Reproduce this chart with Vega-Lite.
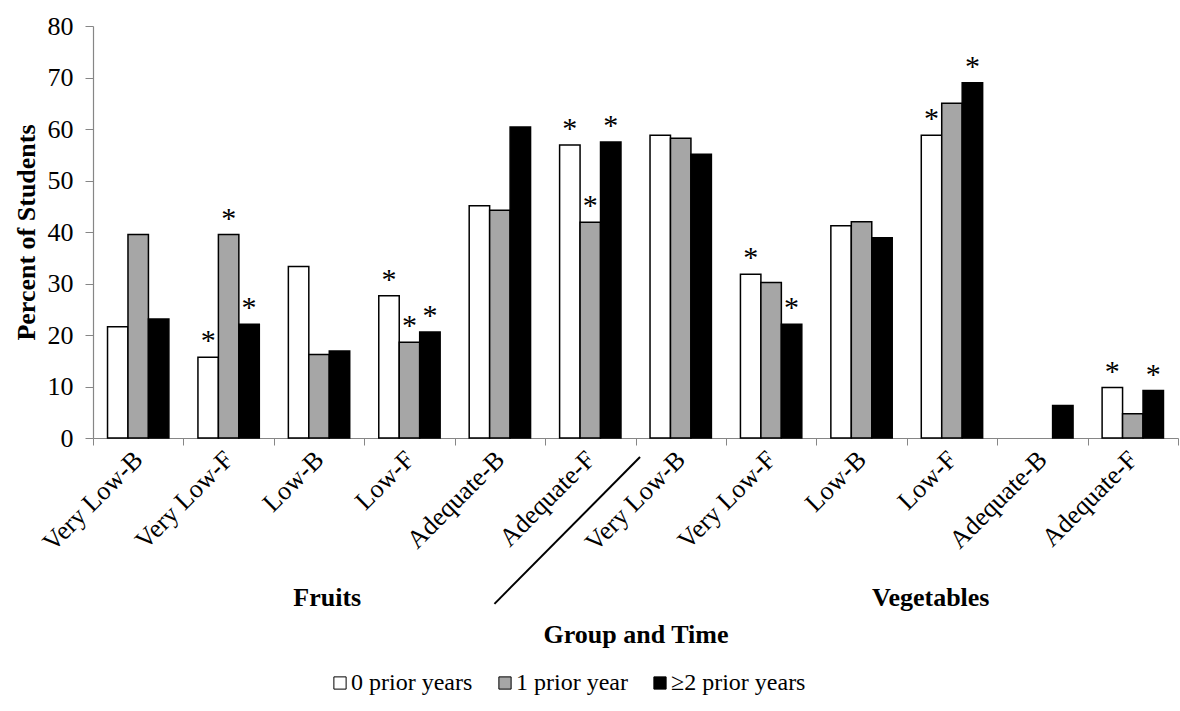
{
  "$schema": "https://vega.github.io/schema/vega-lite/v6.json",
  "width": 1085,
  "height": 412,
  "autosize": "none",
  "padding": {"left": 93, "top": 26, "right": 2, "bottom": 273},
  "background": "white",
  "config": {
    "font": "Liberation Serif",
    "view": {"stroke": null},
    "axis": {"labelFont": "Liberation Serif", "titleFont": "Liberation Serif", "labelColor": "black", "titleColor": "black"},
    "legend": {"labelFont": "Liberation Serif"}
  },
  "datasets": {
    "bars": [
      {"key": "Fruits|Very Low-B", "series": "0 prior years", "value": 21.6, "sig": false},
      {"key": "Fruits|Very Low-B", "series": "1 prior year", "value": 39.5, "sig": false},
      {"key": "Fruits|Very Low-B", "series": "≥2 prior years", "value": 23.1, "sig": false},
      {"key": "Fruits|Very Low-F", "series": "0 prior years", "value": 15.7, "sig": true},
      {"key": "Fruits|Very Low-F", "series": "1 prior year", "value": 39.5, "sig": true},
      {"key": "Fruits|Very Low-F", "series": "≥2 prior years", "value": 22.1, "sig": true},
      {"key": "Fruits|Low-B", "series": "0 prior years", "value": 33.3, "sig": false},
      {"key": "Fruits|Low-B", "series": "1 prior year", "value": 16.2, "sig": false},
      {"key": "Fruits|Low-B", "series": "≥2 prior years", "value": 16.9, "sig": false},
      {"key": "Fruits|Low-F", "series": "0 prior years", "value": 27.6, "sig": true},
      {"key": "Fruits|Low-F", "series": "1 prior year", "value": 18.6, "sig": true},
      {"key": "Fruits|Low-F", "series": "≥2 prior years", "value": 20.6, "sig": true},
      {"key": "Fruits|Adequate-B", "series": "0 prior years", "value": 45.1, "sig": false},
      {"key": "Fruits|Adequate-B", "series": "1 prior year", "value": 44.2, "sig": false},
      {"key": "Fruits|Adequate-B", "series": "≥2 prior years", "value": 60.4, "sig": false},
      {"key": "Fruits|Adequate-F", "series": "0 prior years", "value": 56.9, "sig": true},
      {"key": "Fruits|Adequate-F", "series": "1 prior year", "value": 41.9, "sig": true},
      {"key": "Fruits|Adequate-F", "series": "≥2 prior years", "value": 57.5, "sig": true},
      {"key": "Vegetables|Very Low-B", "series": "0 prior years", "value": 58.8, "sig": false},
      {"key": "Vegetables|Very Low-B", "series": "1 prior year", "value": 58.2, "sig": false},
      {"key": "Vegetables|Very Low-B", "series": "≥2 prior years", "value": 55.1, "sig": false},
      {"key": "Vegetables|Very Low-F", "series": "0 prior years", "value": 31.8, "sig": true},
      {"key": "Vegetables|Very Low-F", "series": "1 prior year", "value": 30.2, "sig": false},
      {"key": "Vegetables|Very Low-F", "series": "≥2 prior years", "value": 22.1, "sig": true},
      {"key": "Vegetables|Low-B", "series": "0 prior years", "value": 41.2, "sig": false},
      {"key": "Vegetables|Low-B", "series": "1 prior year", "value": 42.0, "sig": false},
      {"key": "Vegetables|Low-B", "series": "≥2 prior years", "value": 38.9, "sig": false},
      {"key": "Vegetables|Low-F", "series": "0 prior years", "value": 58.8, "sig": true},
      {"key": "Vegetables|Low-F", "series": "1 prior year", "value": 65.0, "sig": false},
      {"key": "Vegetables|Low-F", "series": "≥2 prior years", "value": 69.0, "sig": true},
      {"key": "Vegetables|Adequate-B", "series": "0 prior years", "value": 0, "sig": false},
      {"key": "Vegetables|Adequate-B", "series": "1 prior year", "value": 0, "sig": false},
      {"key": "Vegetables|Adequate-B", "series": "≥2 prior years", "value": 6.3, "sig": false},
      {"key": "Vegetables|Adequate-F", "series": "0 prior years", "value": 9.8, "sig": true},
      {"key": "Vegetables|Adequate-F", "series": "1 prior year", "value": 4.7, "sig": false},
      {"key": "Vegetables|Adequate-F", "series": "≥2 prior years", "value": 9.2, "sig": true}
    ],
    "groups": [{"group": "Fruits"}, {"group": "Vegetables"}]
  },
  "layer": [
    {
      "data": {"name": "bars"},
      "encoding": {
        "x": {
          "field": "key", "type": "nominal", "sort": null,
          "scale": {"paddingInner": 0, "paddingOuter": 0},
          "axis": {
            "orient": "bottom",
            "title": null,
            "labelExpr": "split(datum.label, '|')[1]",
            "labelAngle": -45, "labelAlign": "right", "labelBaseline": "middle",
            "labelFontSize": 26, "labelPadding": 10,
            "tickBand": "extent", "tickSize": 7, "tickColor": "#868686",
            "domainColor": "#868686", "domainWidth": 1.2
          }
        },
        "xOffset": {
          "field": "series", "type": "nominal",
          "sort": ["0 prior years", "1 prior year", "≥2 prior years"],
          "scale": {"paddingInner": 0, "paddingOuter": 0.71}
        },
        "y": {
          "field": "value", "type": "quantitative",
          "scale": {"domain": [0, 80], "nice": false},
          "axis": {
            "title": "Percent of Students",
            "values": [0, 10, 20, 30, 40, 50, 60, 70, 80],
            "grid": false, "labelFontSize": 26, "titleFontSize": 26, "titleFontWeight": "bold",
            "tickSize": 8, "labelPadding": 12, "titlePadding": 8,
            "domainColor": "#868686", "tickColor": "#868686", "domainWidth": 1.2
          }
        }
      },
      "layer": [
        {
          "mark": {"type": "bar", "stroke": "black", "strokeWidth": 1.5},
          "encoding": {
            "fill": {
              "field": "series", "type": "nominal",
              "scale": {"domain": ["0 prior years", "1 prior year", "≥2 prior years"], "range": ["white", "#a6a6a6", "black"]},
              "legend": {
                "orient": "none", "legendX": 235, "legendY": 645, "direction": "horizontal",
                "title": null, "symbolType": "square", "symbolSize": 150,
                "symbolStrokeColor": "black", "symbolStrokeWidth": 1,
                "labelFontSize": 24, "labelFont": "Liberation Serif", "labelColor": "black",
                "columnPadding": 20, "labelOffset": -1
              }
            },
            "strokeOpacity": {"condition": {"test": "datum.value == 0", "value": 0}, "value": 1}
          }
        },
        {
          "transform": [{"filter": "datum.sig"}],
          "mark": {"type": "text", "text": "*", "fontSize": 30, "font": "Liberation Serif", "baseline": "alphabetic", "dy": -7, "color": "black"}
        }
      ]
    },
    {
      "data": {"name": "groups"},
      "mark": {"type": "point", "opacity": 0},
      "encoding": {
        "x": {
          "field": "group", "type": "nominal",
          "scale": {"type": "band", "paddingInner": 0, "paddingOuter": 0},
          "axis": {
            "orient": "bottom",
            "title": "Group and Time", "titleFontSize": 26, "titleFontWeight": "bold", "titlePadding": 11,
            "labelFontSize": 26, "labelFontWeight": "bold", "labelAngle": 0, "labelPadding": 146,
            "ticks": false, "domain": false,
            "labelOffset": {"condition": {"test": "datum.value == 'Fruits'", "value": -37}, "value": 24}
          }
        },
        "y": {"datum": 0, "type": "quantitative"}
      }
    },
    {
      "data": {"values": [{}]},
      "mark": {"type": "rule", "color": "black", "strokeWidth": 2, "clip": false},
      "encoding": {
        "x": {"datum": 4.44, "type": "quantitative", "scale": {"domain": [0, 12], "nice": false, "zero": false}, "axis": null},
        "x2": {"datum": 6.05},
        "y": {"datum": -32.2, "type": "quantitative"},
        "y2": {"datum": -3.7}
      }
    }
  ],
  "resolve": {"scale": {"x": "independent"}, "axis": {"x": "independent"}}
}
